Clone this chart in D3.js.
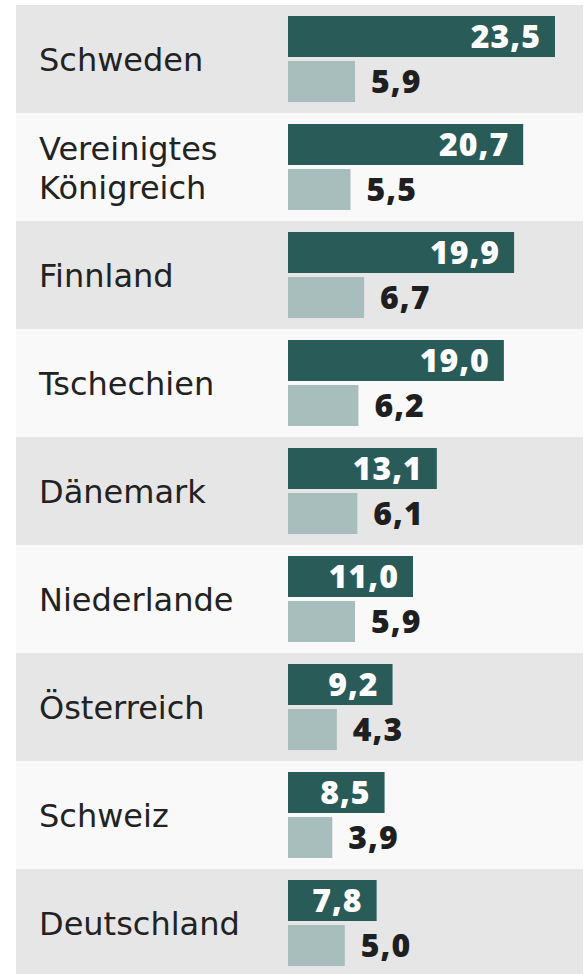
<!DOCTYPE html>
<head>
  <meta charset="utf-8">
  <style>
    body { margin: 0; background: #fff; }
    svg { display: block; }
    .label { font-family: 'DejaVu Sans', sans-serif; font-size: 32px; fill: #222; }
    .value { font-family: 'Open Sans', sans-serif; font-weight: 800; font-size: 32px; letter-spacing: 1px; }
  </style>
  <script src="https://cdn.jsdelivr.net/npm/d3@7"></script>
</head>
<body>
<div id="chart"></div>
<script>
  // data
  const countries = ['Schweden', 'Vereinigtes Königreich', 'Finnland', 'Tschechien', 'Dänemark',
    'Niederlande', 'Österreich', 'Schweiz', 'Deutschland']
  const values_top = [23.5, 20.7, 19.9, 19.0, 13.1, 11.0, 9.2, 8.5, 7.8]
  const values_bottom = [5.9, 5.5, 6.7, 6.2, 6.1, 5.9, 4.3, 3.9, 5.0]
  const series = ['top', 'bottom']

  const width = 586, height = 974
  const row_h = 108
  const color_row = ['#e6e6e6', '#f9f9f9']
  const color_bar = { top: '#295c59', bottom: '#a8bebc' }
  const fmt = v => d3.format('.1f')(v).replace('.', ',')

  const rows = countries.map((name, i) => ({
    name,
    bars: [
      { key: 'top', value: values_top[i] },
      { key: 'bottom', value: values_bottom[i] },
    ]
  }))

  const y = d3.scaleBand().domain(countries).range([5, 5 + row_h * countries.length])
  const y_inner = d3.scaleBand().domain(series).range([11, 97]).paddingInner(4 / 45)
  const x = d3.scaleLinear().domain([0, 23.5]).range([0, 267])
  const x0 = 288

  const svg = d3.select('#chart').append('svg')
    .attr('width', width).attr('height', height)
    .attr('viewBox', [0, 0, width, height])

  const row = svg.selectAll('g.row').data(rows).join('g')
    .attr('class', 'row')
    .attr('transform', d => `translate(0,${y(d.name)})`)

  row.append('rect')
    .attr('x', 16).attr('width', 567)
    .attr('height', y.bandwidth())
    .attr('fill', (d, i) => color_row[i % 2])

  // country names, wrapped on space when too long
  row.append('text')
    .attr('class', 'label')
    .each(function (d) {
      const lines = d.name.length > 14 ? d.name.split(' ') : [d.name]
      const lh = 39
      const first = y.bandwidth() / 2 + 12 - (lines.length - 1) * lh / 2
      d3.select(this).selectAll('tspan').data(lines).join('tspan')
        .attr('x', 39)
        .attr('y', (l, i) => first + i * lh)
        .text(l => l)
    })

  const bar = row.selectAll('g.bar').data(d => d.bars).join('g').attr('class', 'bar')

  bar.append('rect')
    .attr('x', x0)
    .attr('y', d => y_inner(d.key))
    .attr('width', d => x(d.value))
    .attr('height', y_inner.bandwidth())
    .attr('fill', d => color_bar[d.key])

  bar.append('text')
    .attr('class', 'value')
    .attr('x', d => d.key === 'top' ? x0 + x(d.value) - 14 : x0 + x(d.value) + 16)
    .attr('y', d => y_inner(d.key) + y_inner.bandwidth() / 2 + 11)
    .attr('text-anchor', d => d.key === 'top' ? 'end' : 'start')
    .attr('fill', d => d.key === 'top' ? '#fff' : '#1f1f1f')
    .text(d => fmt(d.value))
</script>
</body>
